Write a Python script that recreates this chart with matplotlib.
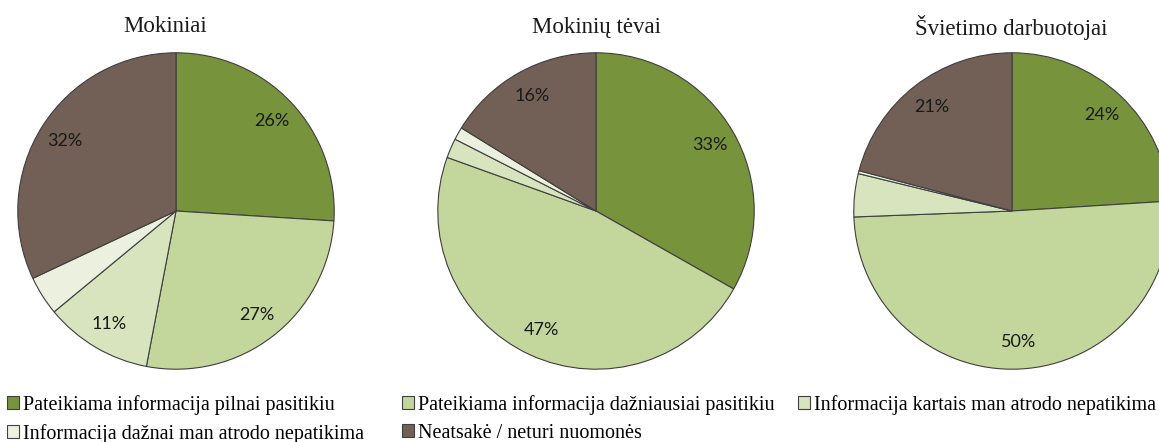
import matplotlib
matplotlib.use("Agg")
import matplotlib.pyplot as plt
from matplotlib.patches import Patch

# data
groups = ["Mokiniai", "Mokinių tėvai", "Švietimo darbuotojai"]
categories = [
    "Pateikiama informacija pilnai pasitikiu",
    "Pateikiama informacija dažniausiai pasitikiu",
    "Informacija kartais man atrodo nepatikima",
    "Informacija dažnai man atrodo nepatikima",
    "Neatsakė / neturi nuomonės",
]
mokiniai = [26, 27, 11, 4, 32]
tevai = [33.2, 47.3, 2.0, 1.3, 16.2]
darbuotojai = [24.0, 50.4, 4.4, 0.3, 20.9]
series = [mokiniai, tevai, darbuotojai]

colors = ["#77933C", "#C3D69B", "#D7E4BD", "#EBF1DE", "#725F55"]
edge = "#3F3F3F"

W, H = 1159, 442
fig = plt.figure(figsize=(W / 100, H / 100), dpi=100)

centers_x = [176, 596, 1012]
title_x = [165, 596, 1011]
center_y = 211
r = 159


def pct_label(p):
    return f"{p:.0f}%" if p >= 5 else ""


for name, vals, cx, tx in zip(groups, series, centers_x, title_x):
    ax = fig.add_axes([(cx - r) / W, (H - center_y - r) / H, 2 * r / W, 2 * r / H])
    wedges, texts, autotexts = ax.pie(
        vals, colors=colors, startangle=90, counterclock=False,
        autopct=pct_label, pctdistance=0.83, radius=1,
        wedgeprops=dict(edgecolor=edge, linewidth=0.8),
        textprops=dict(family="Lato", fontsize=13, color="#1a1a1a"),
    )
    ax.set_xlim(-1.005, 1.005)
    ax.set_ylim(-1.005, 1.005)
    ax.set_aspect("equal")
    ax.axis("off")
    fig.text(tx / W, 1 - 27 / H, name, ha="center", va="center",
             family="Liberation Serif", fontsize=16.5, color="#1a1a1a")

handles = [Patch(facecolor=c, edgecolor=edge, linewidth=0.8, label=l)
           for c, l in zip(colors, categories)]

# three legend columns, filled row by row
columns = [[0, 3], [1, 4], [2]]
col_x = [7, 402, 798]
for idx, x in zip(columns, col_x):
    fig.legend(handles=[handles[i] for i in idx], loc="upper left",
               bbox_to_anchor=(x / W, 1 - 395 / H), frameon=False,
               prop=dict(family="Liberation Serif", size=14.5),
               handlelength=0.6, handleheight=0.6, handletextpad=0.2,
               labelspacing=0.45, borderaxespad=0, borderpad=0)

fig.savefig("out.png", dpi=100)
